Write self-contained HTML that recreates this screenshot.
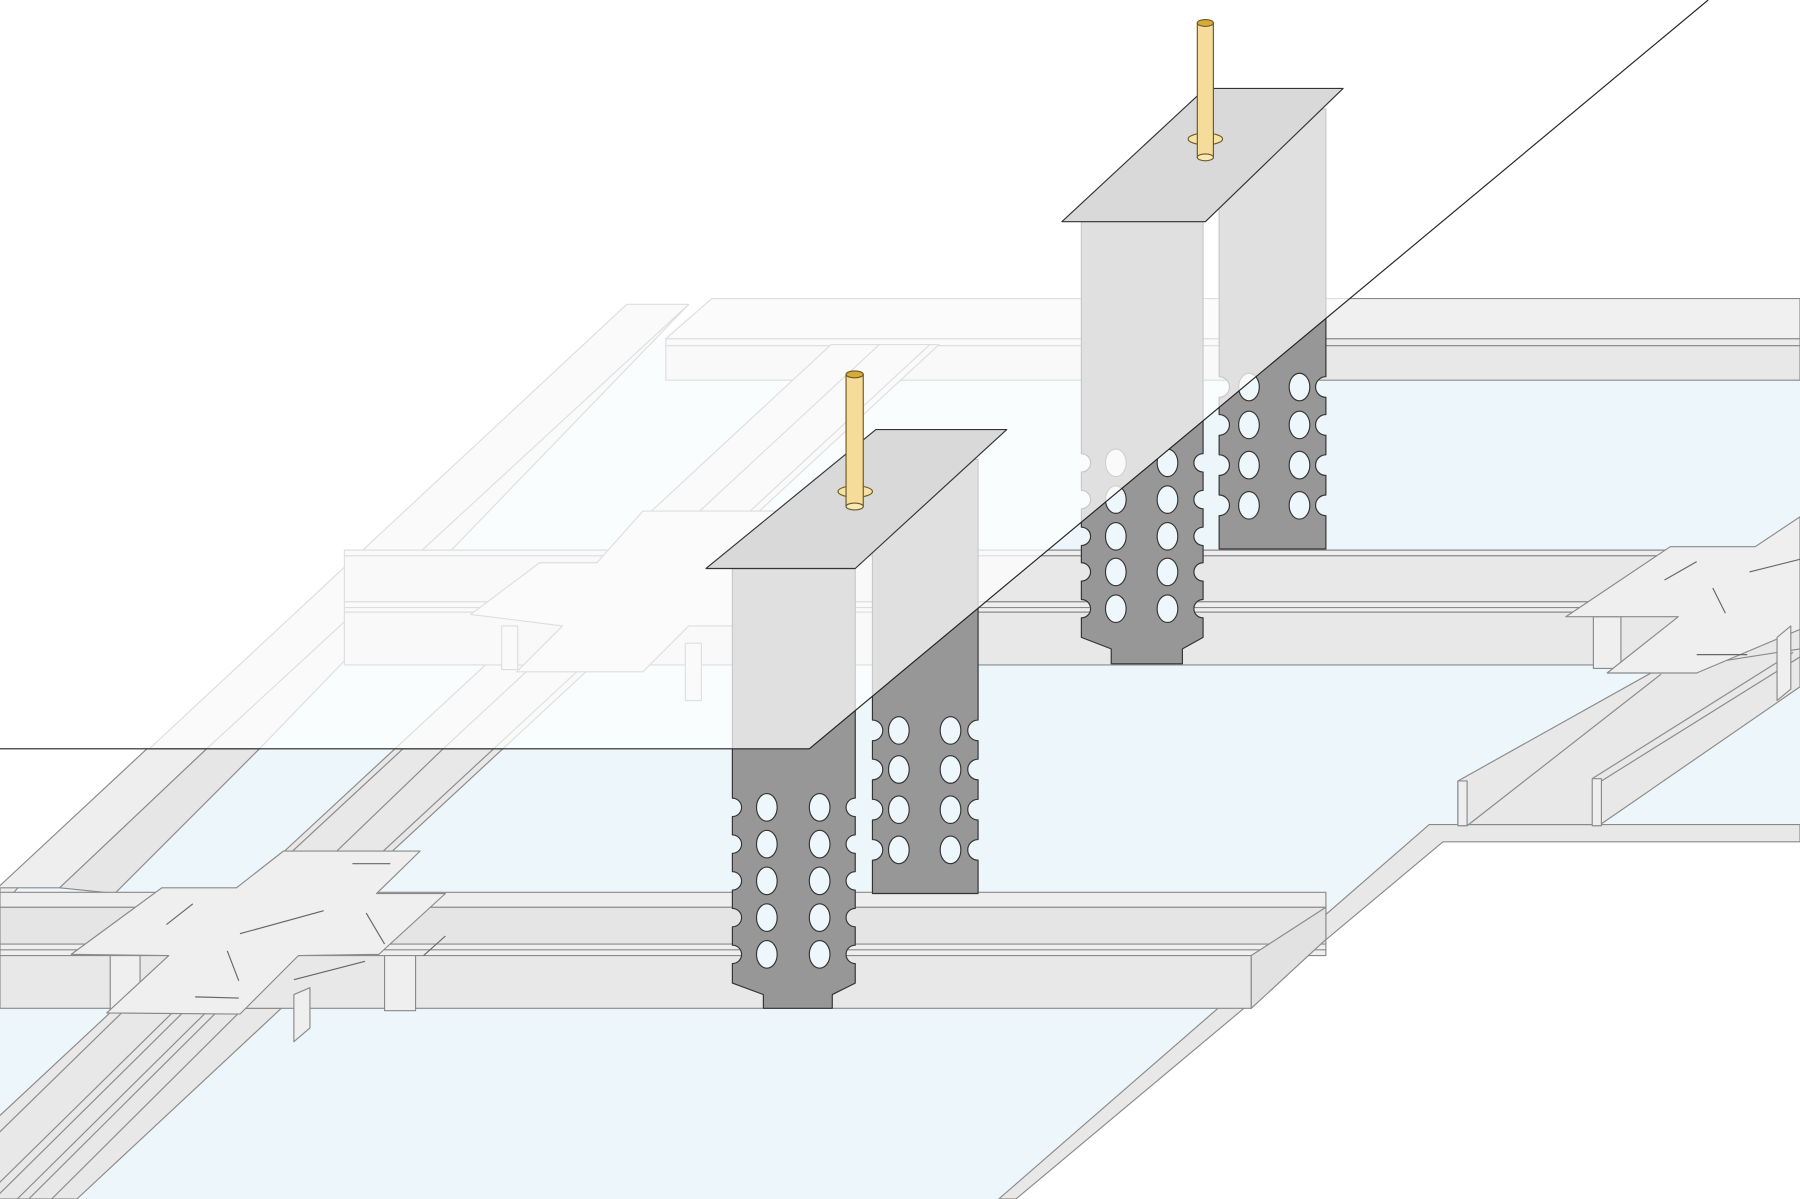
<!DOCTYPE html>
<html><head><meta charset="utf-8"><style>html,body{margin:0;padding:0;background:#fff}svg{display:block}</style></head>
<body>
<svg width="1800" height="1199" viewBox="0 0 1568 1044" preserveAspectRatio="none" xmlns="http://www.w3.org/2000/svg">
<defs>
<clipPath id="below"><polygon points="0,652 705,652 1488,0 1568,0 1568,1044 0,1044"/></clipPath>
</defs>
<rect width="1568" height="1044" fill="#fff"/>
<g stroke="#8a8a8a" stroke-width="1" stroke-linejoin="round">
<polygon points="147,652 600,275 1568,275 1568,718 1245,718 870,1044 0,1044 0,790" fill="#ecf6fb" stroke="none"/>
<polygon points="1245,718 1568,718 1568,733 1257,733 885,1044 870,1044" fill="#e8e8e8"/>
<polygon points="580,295 620,260 1568,260 1568,295" fill="#f1f0f0"/>
<rect x="580" y="295" width="988" height="6" fill="#ececec"/>
<rect x="580" y="301" width="988" height="30" fill="#e9e8e8"/>
<polygon points="0,790 0,773 546,265 600,265 226,652 128,652" fill="#ececec"/>
<polygon points="-2,773 128,652 180,652 52,773" fill="#eeeeee"/>
<line x1="180" y1="652" x2="600" y2="265"/>
<polygon points="52,773 180,652 226,652 100,778" fill="#e6e6e6"/>
<polygon points="208,778 344,652 438,652 302,778" fill="#e8e8e8"/>
<line x1="351" y1="652" x2="215" y2="778"/>
<line x1="386" y1="652" x2="255" y2="778"/>
<line x1="430" y1="652" x2="294" y2="778"/>
<polygon points="344,652 438,652 818,300 724,300" fill="#ececec"/>
<line x1="386" y1="652" x2="766" y2="300"/>
<line x1="430" y1="652" x2="810" y2="300"/>
<rect x="300" y="479" width="1268" height="5" fill="#eeeeee"/>
<rect x="300" y="484" width="1268" height="40" fill="#e9e8e8"/>
<rect x="300" y="524" width="1268" height="9" fill="#eeeeee"/>
<line x1="300" y1="529" x2="1568" y2="529"/>
<rect x="300" y="533" width="1268" height="46" fill="#e9e8e8"/>
<polygon points="410,535 470,490 520,490 560,445 700,445 660,480 720,480 650,545 600,545 560,585 450,585 490,545" fill="#f0efef"/>
<rect x="437" y="545" width="14" height="38" fill="#eee"/>
<rect x="597" y="560" width="14" height="50" fill="#eee"/>
<polygon points="100,878 245,878 67,1044 -78,1044" fill="#e8e8e8"/>
<line x1="110" y1="878" x2="-60" y2="1044"/>
<line x1="154" y1="878" x2="-15" y2="1044"/>
<line x1="163" y1="878" x2="-5" y2="1044"/>
<line x1="183" y1="878" x2="15" y2="1044"/>
<line x1="192" y1="878" x2="25" y2="1044"/>
<line x1="212" y1="878" x2="45" y2="1044"/>
<rect x="0" y="777" width="1155" height="13" fill="#eeeeee"/>
<rect x="0" y="790" width="1155" height="32" fill="#e6e5e5"/>
<rect x="0" y="822" width="1155" height="10" fill="#efefef"/>
<line x1="0" y1="827" x2="1155" y2="827"/>
<rect x="0" y="832" width="1090" height="46" fill="#e9e8e8"/>
<polygon points="1090,832 1155,790 1155,818 1090,878" fill="#e2e2e2"/>
<rect x="96" y="832" width="26" height="48" fill="#efefef"/>
<rect x="335" y="832" width="27" height="48" fill="#efefef"/>
<polygon points="62,831 141,773 206,773 247,741 366,741 328,778 388,778 330,831 260,832 209,883 93,882 147,832" fill="#f0efef"/>
<polygon points="256,866 270,860 270,895 256,907" fill="#efefef"/>
<g stroke="#666">
<line x1="145" y1="805" x2="168" y2="787"/><line x1="209" y1="813" x2="282" y2="793"/><line x1="198" y1="828" x2="208" y2="854"/>
<line x1="307" y1="752" x2="340" y2="752"/><line x1="319" y1="795" x2="335" y2="822"/><line x1="256" y1="853" x2="318" y2="837"/>
<line x1="369" y1="832" x2="388" y2="815"/><line x1="170" y1="868" x2="208" y2="869"/>
</g>
<polygon points="1270,680 1440,585 1568,565 1568,598 1394,718 1270,718" fill="#e8e8e8"/>
<rect x="1270" y="680" width="8" height="39" fill="#eeeeee"/>
<rect x="1387" y="678" width="8" height="41" fill="#eeeeee"/>
<line x1="1278" y1="719" x2="1447" y2="587"/>
<line x1="1387" y1="678" x2="1562" y2="568"/>
<line x1="1395" y1="680" x2="1568" y2="572"/>
<rect x="1388" y="537" width="24" height="45" fill="#efefef"/>
<polygon points="1364,537 1455,476 1529,476 1568,450 1568,548 1478,586 1400,586 1462,537" fill="#f0efef"/>
<polygon points="1548,555 1560,545 1560,600 1548,610" fill="#efefef"/>
<g stroke="#666"><line x1="1450" y1="505" x2="1478" y2="489"/><line x1="1492" y1="512" x2="1503" y2="534"/><line x1="1524" y1="498" x2="1568" y2="487"/><line x1="1478" y1="570" x2="1522" y2="570"/></g>
</g>
<polygon points="0,0 1488,0 705,652 0,652" fill="#fff" fill-opacity="0.72"/>

<g stroke-linejoin="round">
<g fill="#e0e0e0" stroke="#c8c8c8">
<path d="M638,495 H745 V695 A8,8 0 0 0 745,711 V727 A8,8 0 0 0 745,743 V759 A8,8 0 0 0 745,775 V791 A8,8 0 0 0 745,807 V823 A8,8 0 0 0 745,839 V856 L725,866 V878 H665 V866 L638,856 V839 A8,8 0 0 0 638,823 V807 A8,8 0 0 0 638,791 V775 A8,8 0 0 0 638,759 V743 A8,8 0 0 0 638,727 V711 A8,8 0 0 0 638,695 Z"/>
<path d="M760,400 H852 V627 A9,9 0 0 0 852,645 V661 A9,9 0 0 0 852,679 V696 A9,9 0 0 0 852,714 V731 A9,9 0 0 0 852,749 V778 H760 V749 A9,9 0 0 0 760,731 V714 A9,9 0 0 0 760,696 V679 A9,9 0 0 0 760,661 V645 A9,9 0 0 0 760,627 Z"/>
<path d="M942,193 H1048 V395 A8,8 0 0 0 1048,411 V427 A8,8 0 0 0 1048,443 V459 A8,8 0 0 0 1048,475 V490 A8,8 0 0 0 1048,506 V522 A8,8 0 0 0 1048,538 V555 L1030,565 V578 H968 V565 L942,555 V538 A8,8 0 0 0 942,522 V506 A8,8 0 0 0 942,490 V475 A8,8 0 0 0 942,459 V443 A8,8 0 0 0 942,427 V411 A8,8 0 0 0 942,395 Z"/>
<path d="M1062,95 H1155 V328 A9,9 0 0 0 1155,346 V361 A9,9 0 0 0 1155,379 V396 A9,9 0 0 0 1155,414 V431 A9,9 0 0 0 1155,449 V478 H1062 V449 A9,9 0 0 0 1062,431 V414 A9,9 0 0 0 1062,396 V379 A9,9 0 0 0 1062,361 V346 A9,9 0 0 0 1062,328 Z"/>
</g>
<g fill="#fafafa" stroke="#d0d0d0">
<ellipse cx="972" cy="403" rx="9" ry="12"/><ellipse cx="972" cy="435" rx="9" ry="12"/>
<ellipse cx="1088" cy="337" rx="9" ry="12"/>
</g>
<g clip-path="url(#below)">
<g fill="#979797" stroke="#333" stroke-width="1">
<path d="M638,495 H745 V695 A8,8 0 0 0 745,711 V727 A8,8 0 0 0 745,743 V759 A8,8 0 0 0 745,775 V791 A8,8 0 0 0 745,807 V823 A8,8 0 0 0 745,839 V856 L725,866 V878 H665 V866 L638,856 V839 A8,8 0 0 0 638,823 V807 A8,8 0 0 0 638,791 V775 A8,8 0 0 0 638,759 V743 A8,8 0 0 0 638,727 V711 A8,8 0 0 0 638,695 Z"/>
<path d="M760,400 H852 V627 A9,9 0 0 0 852,645 V661 A9,9 0 0 0 852,679 V696 A9,9 0 0 0 852,714 V731 A9,9 0 0 0 852,749 V778 H760 V749 A9,9 0 0 0 760,731 V714 A9,9 0 0 0 760,696 V679 A9,9 0 0 0 760,661 V645 A9,9 0 0 0 760,627 Z"/>
<path d="M942,193 H1048 V395 A8,8 0 0 0 1048,411 V427 A8,8 0 0 0 1048,443 V459 A8,8 0 0 0 1048,475 V490 A8,8 0 0 0 1048,506 V522 A8,8 0 0 0 1048,538 V555 L1030,565 V578 H968 V565 L942,555 V538 A8,8 0 0 0 942,522 V506 A8,8 0 0 0 942,490 V475 A8,8 0 0 0 942,459 V443 A8,8 0 0 0 942,427 V411 A8,8 0 0 0 942,395 Z"/>
<path d="M1062,95 H1155 V328 A9,9 0 0 0 1155,346 V361 A9,9 0 0 0 1155,379 V396 A9,9 0 0 0 1155,414 V431 A9,9 0 0 0 1155,449 V478 H1062 V449 A9,9 0 0 0 1062,431 V414 A9,9 0 0 0 1062,396 V379 A9,9 0 0 0 1062,361 V346 A9,9 0 0 0 1062,328 Z"/>
</g>
<g fill="#eef7fc" stroke="#333">
<ellipse cx="668" cy="703" rx="9" ry="12"/><ellipse cx="714" cy="703" rx="9" ry="12"/>
<ellipse cx="668" cy="735" rx="9" ry="12"/><ellipse cx="714" cy="735" rx="9" ry="12"/>
<ellipse cx="668" cy="767" rx="9" ry="12"/><ellipse cx="714" cy="767" rx="9" ry="12"/>
<ellipse cx="668" cy="799" rx="9" ry="12"/><ellipse cx="714" cy="799" rx="9" ry="12"/>
<ellipse cx="668" cy="831" rx="9" ry="12"/><ellipse cx="714" cy="831" rx="9" ry="12"/>
<ellipse cx="783" cy="636" rx="9" ry="12"/><ellipse cx="828" cy="636" rx="9" ry="12"/>
<ellipse cx="783" cy="670" rx="9" ry="12"/><ellipse cx="828" cy="670" rx="9" ry="12"/>
<ellipse cx="783" cy="705" rx="9" ry="12"/><ellipse cx="828" cy="705" rx="9" ry="12"/>
<ellipse cx="783" cy="740" rx="9" ry="12"/><ellipse cx="828" cy="740" rx="9" ry="12"/>
<ellipse cx="972" cy="403" rx="9" ry="12"/><ellipse cx="1017" cy="403" rx="9" ry="12"/>
<ellipse cx="972" cy="435" rx="9" ry="12"/><ellipse cx="1017" cy="435" rx="9" ry="12"/>
<ellipse cx="972" cy="467" rx="9" ry="12"/><ellipse cx="1017" cy="467" rx="9" ry="12"/>
<ellipse cx="972" cy="498" rx="9" ry="12"/><ellipse cx="1017" cy="498" rx="9" ry="12"/>
<ellipse cx="972" cy="530" rx="9" ry="12"/><ellipse cx="1017" cy="530" rx="9" ry="12"/>
<ellipse cx="1088" cy="337" rx="9" ry="12"/><ellipse cx="1132" cy="337" rx="9" ry="12"/>
<ellipse cx="1088" cy="370" rx="9" ry="12"/><ellipse cx="1132" cy="370" rx="9" ry="12"/>
<ellipse cx="1088" cy="405" rx="9" ry="12"/><ellipse cx="1132" cy="405" rx="9" ry="12"/>
<ellipse cx="1088" cy="440" rx="9" ry="12"/><ellipse cx="1132" cy="440" rx="9" ry="12"/>
</g>
</g>
<polygon points="615,495 763,374 877,374 745,495" fill="#d9d9d9" stroke="#333"/>
<polygon points="925,193 1050,77 1170,77 1050,193" fill="#d9d9d9" stroke="#333"/>
<g stroke="#6b5a20" stroke-width="1">
<ellipse cx="745" cy="428" rx="15" ry="5" fill="#f5e2a6"/>
<rect x="737" y="326" width="15" height="115" fill="#f5dc9a"/>
<ellipse cx="744.5" cy="441" rx="7.5" ry="3" fill="#f8e8b8"/>
<ellipse cx="744.5" cy="326" rx="7.5" ry="3" fill="#d9a93a"/>
<ellipse cx="1050" cy="121" rx="15" ry="5" fill="#f5e2a6"/>
<rect x="1043" y="20" width="14" height="117" fill="#f5dc9a"/>
<ellipse cx="1050" cy="137" rx="7" ry="3" fill="#f8e8b8"/>
<ellipse cx="1050" cy="20" rx="7" ry="3" fill="#d9a93a"/>
</g>
</g>
<polyline points="1488,0 705,652 0,652" fill="none" stroke="#222" stroke-width="1"/>
</svg>
</body></html>
